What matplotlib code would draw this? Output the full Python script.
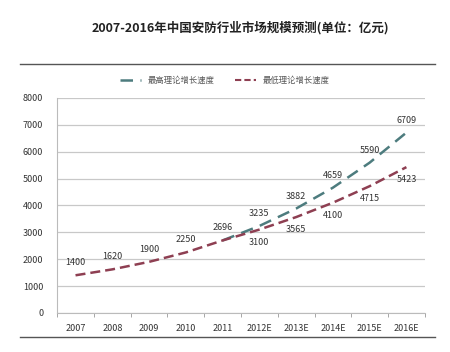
import matplotlib.pyplot as plt
from matplotlib.lines import Line2D

plt.rcParams['font.family'] = ['Noto Sans CJK SC', 'DejaVu Sans']

years = ['2007', '2008', '2009', '2010', '2011', '2012E', '2013E', '2014E', '2015E', '2016E']
low = [1400, 1620, 1900, 2250, 2696, 3100, 3565, 4100, 4715, 5423]
high_years = ['2011', '2012E', '2013E', '2014E', '2015E', '2016E']
high = [2696, 3235, 3882, 4659, 5590, 6709]

teal = '#4d7c7e'
red = '#8e3f52'

fig = plt.figure(figsize=(4.5, 3.52), dpi=100)
ax = fig.add_axes([0.127, 0.111, 0.817, 0.611])

x = list(range(len(years)))
xh = [years.index(y) for y in high_years]

ax.plot(xh, high, color=teal, lw=1.8, dashes=(5, 3))
ax.plot(x, low, color=red, lw=1.8, dashes=(4, 2))

for i, v in enumerate(low):
    off = 9 if i < 5 else -9
    ax.annotate(str(v), (i, v), xytext=(0, off), textcoords='offset points',
                ha='center', va='center', fontsize=6.5, color='#333333')
for i, v in zip(xh[1:], high[1:]):
    ax.annotate(str(v), (i, v), xytext=(0, 9), textcoords='offset points',
                ha='center', va='center', fontsize=6.5, color='#333333')

ax.set_xlim(-0.5, len(years) - 0.5)
ax.set_ylim(0, 8000)
ax.set_yticks(range(0, 8001, 1000))
ax.set_xticks(x)
ax.set_xticklabels(years)
ax.set_xticks([i + 0.5 for i in range(-1, len(years))], minor=True)
ax.tick_params(axis='x', which='major', length=0, labelsize=6.5, colors='#333333', pad=8)
ax.tick_params(axis='x', which='minor', length=3, color='#999999')
ax.tick_params(axis='y', length=0, labelsize=6.5, colors='#333333', pad=10)
ax.grid(axis='y', color='#c8c8c8', lw=0.9)
ax.set_axisbelow(True)
for s in ['top', 'right']:
    ax.spines[s].set_visible(False)
ax.spines['left'].set_color('#bbbbbb')
ax.spines['bottom'].set_color('#bbbbbb')

fig.text(0.535, 0.92, '2007-2016年中国安防行业市场规模预测(单位：亿元)',
         ha='center', va='center', fontsize=9, fontweight='bold', color='#222222')

fig.add_artist(Line2D([0.045, 0.967], [0.818, 0.818], color='#555555', lw=1))
fig.add_artist(Line2D([0.045, 0.967], [0.043, 0.043], color='#555555', lw=1))

handles = [Line2D([], [], color=teal, lw=1.8, dashes=(5, 3)),
           Line2D([], [], color=red, lw=1.5, dashes=(3, 1.5))]
fig.legend(handles, ['最高理论增长速度', '最低理论增长速度'], loc='center',
           bbox_to_anchor=(0.5, 0.772), ncol=2, frameon=False, fontsize=6,
           labelcolor='#555555', handlelength=2.5, columnspacing=2.5)

plt.savefig('out.png', dpi=100)
